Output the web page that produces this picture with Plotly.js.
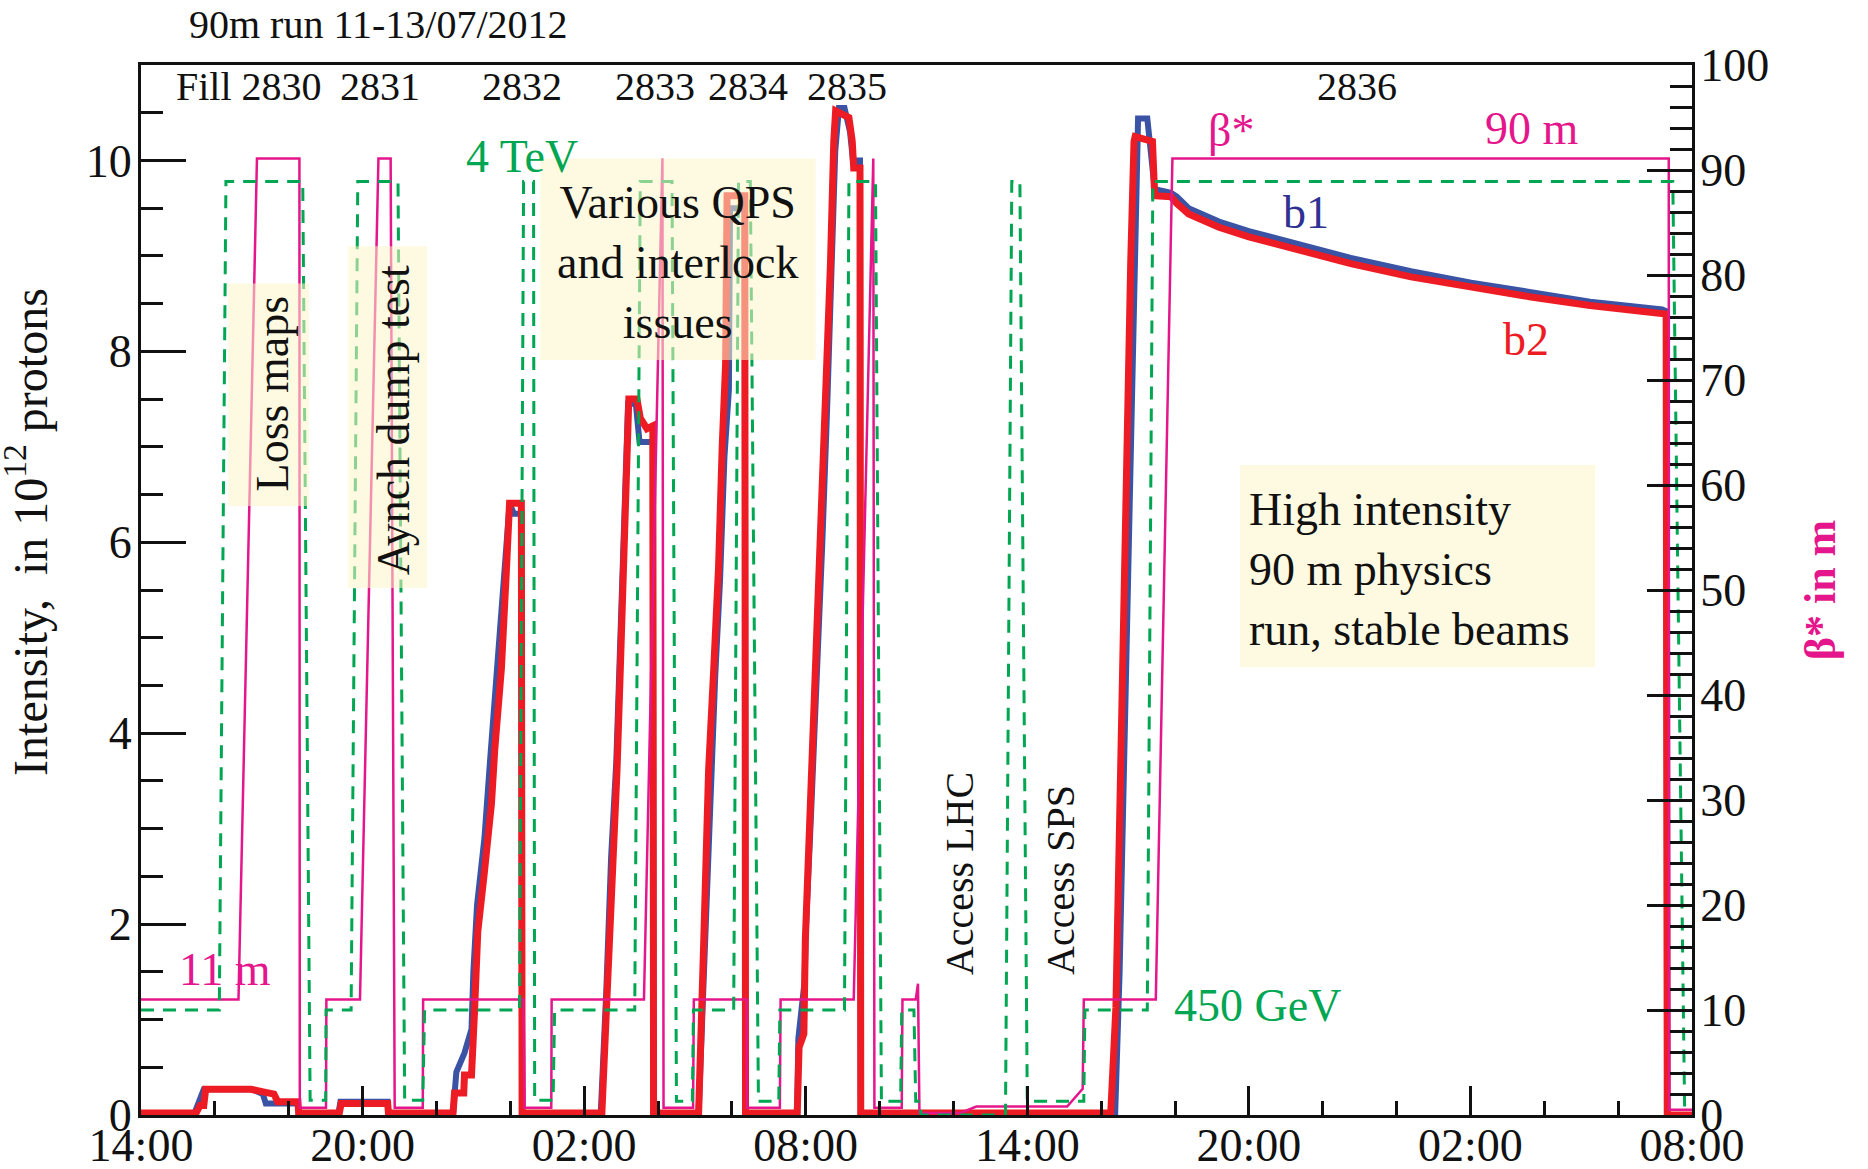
<!DOCTYPE html>
<html>
<head>
<meta charset="utf-8">
<script src="https://cdn.plot.ly/plotly-3.0.1.min.js"></script>
<style>
html,body{margin:0;padding:0;background:#fff;}
#chart{width:1868px;height:1169px;}
</style>
</head>
<body>
<div id="chart"></div>
<script>
// time in hours after 14:00 on 11/07/2012
const hoursB1 = [0,1.45,1.55,1.7,3.0,3.3,3.38,4.25,4.27,5.35,5.4,6.68,6.7,8.45,8.54,8.76,8.95,9.0,9.1,9.3,9.45,9.7,9.88,9.98,10.1,10.3,10.32,
  12.45,12.6,12.73,12.87,12.96,13.05,13.14,13.19,13.4,13.5,13.86,13.88,
  15.1,15.25,15.4,15.55,15.68,15.8,15.92,15.95,16.35,16.37,
  17.77,17.8,17.97,18.0,18.15,18.3,18.45,18.58,18.7,18.8,18.9,19.05,19.2,19.28,19.47,19.49,
  26.38,26.5,26.6,26.7,26.8,26.88,26.96,27.0,27.25,27.35,27.45,27.89,28.05,28.37,29.19,30.0,31.14,32.76,34.39,36.02,37.64,39.24,41.19,41.3,41.33,42];
const b1 = [0.02,0.02,0.12,0.27,0.27,0.22,0.12,0.12,0.02,0.02,0.14,0.14,0.02,0.02,0.45,0.65,0.9,1.5,2.2,2.9,3.7,4.9,5.9,6.4,6.3,6.3,0.02,
  0.02,1.3,2.7,3.7,4.8,5.9,6.8,7.45,7.45,7.05,7.05,0.02,
  0.02,1.6,3.4,4.6,5.6,6.9,7.6,9.5,9.5,0.02,
  0.02,0.8,1.4,1.9,3.2,4.5,6.0,7.4,8.8,10.1,10.55,10.55,10.3,10.0,10.0,0.02,
  0.02,1.5,3.3,5.0,6.8,8.2,10.1,10.44,10.44,10.1,9.7,9.66,9.62,9.5,9.36,9.26,9.14,8.98,8.84,8.72,8.62,8.52,8.44,8.42,0.0,0.0];

const hoursB2 = [0,1.49,1.6,1.7,1.75,2.98,3.34,3.6,3.7,4.25,4.27,5.37,5.42,6.68,6.7,8.45,8.49,8.74,8.76,8.95,9.03,9.12,9.3,9.49,9.58,9.76,9.89,9.98,10.3,10.32,
  12.48,12.62,12.76,12.89,12.98,13.07,13.16,13.21,13.43,13.52,13.7,13.86,13.88,
  15.1,15.24,15.37,15.51,15.64,15.74,15.83,15.87,16.35,16.37,
  17.77,17.82,17.95,17.99,18.13,18.27,18.4,18.54,18.67,18.76,18.81,19.17,19.26,19.3,19.47,19.49,
  26.26,26.4,26.49,26.55,26.62,26.71,26.8,26.89,26.92,27.39,27.45,27.89,28.05,28.37,29.19,30.0,31.14,32.76,34.39,36.02,37.64,39.24,41.19,41.3,41.33,42];
const b2 = [0.02,0.02,0.1,0.1,0.27,0.27,0.24,0.22,0.14,0.14,0.02,0.02,0.12,0.12,0.02,0.02,0.23,0.23,0.42,0.42,1.07,1.92,2.55,3.26,3.83,4.68,5.67,6.41,6.41,0.02,
  0.02,1.13,2.55,3.61,4.68,5.74,6.66,7.5,7.5,7.3,7.19,7.22,0.02,
  0.02,1.84,3.61,4.68,5.74,7.02,7.86,9.63,9.63,0.02,
  0.02,0.71,0.85,1.84,3.26,4.68,6.1,7.5,8.92,10.2,10.52,10.45,10.2,9.92,9.92,0.02,
  0.02,1.13,2.9,4.68,6.09,7.65,8.92,10.2,10.25,10.2,9.63,9.62,9.55,9.44,9.3,9.2,9.08,8.92,8.78,8.67,8.57,8.48,8.4,8.39,0.0,0.0];

const hoursBeta = [0,2.64,3.14,4.29,4.3,5.01,5.02,5.93,6.43,6.76,6.87,7.63,7.64,10.36,10.39,11.11,11.12,13.62,14.12,14.15,14.95,14.97,16.4,16.41,17.3,17.32,19.3,19.83,19.86,20.6,20.62,20.98,21.04,21.08,22.19,22.62,25.08,25.5,25.53,27.48,27.93,41.37,41.38,42];
const betaStar = [11,11,91.1,91.1,0.7,0.7,11,11,91.1,91.1,0.7,0.7,11,11,0.7,0.7,11,11,91.1,0.7,0.7,11,11,0.7,0.7,11,11,91.1,0.7,0.7,11,11,12.5,0.2,0.2,0.8,0.8,2.5,11,11,91.1,91.1,0.5,0.5];

// beam energy drawn on the beta* scale (450 GeV -> 10, 4 TeV -> 88.9)
const hoursEnergy = [0,2.12,2.30,4.38,4.58,5.0,5.01,5.69,5.87,6.96,7.14,7.63,7.68,10.25,10.36,10.63,10.66,11.16,11.2,13.37,13.52,14.38,14.5,14.93,14.96,16.05,16.18,16.5,16.72,17.27,17.3,19.05,19.17,19.89,20.05,20.57,20.6,20.93,20.98,21.1,21.12,23.41,23.58,23.8,24.0,25.53,25.56,27.25,27.4,41.48,41.8,42];
const energyScaled = [10,10,88.9,88.9,1.4,1.4,10,10,88.9,88.9,1.4,1.4,10,10,88.9,88.9,1.4,1.4,10,10,88.9,88.9,1.3,1.3,10,10,88.9,88.9,1.3,1.3,10,10,88.9,88.9,1.3,1.3,10,10,1.3,1.3,0,0,88.9,88.9,1.3,1.3,10,10,88.9,88.9,0.7,0.7];

const xTickVals = [0,6,12,18,24,30,36,42];
const xTickText = ["14:00","20:00","02:00","08:00","14:00","20:00","02:00","08:00"];

const fillNames = ["Fill 2830","2831","2832","2833","2834","2835","2836"];
const fillHours = [2.93,6.48,10.31,13.92,16.44,19.12,32.93];

const SERIF = "Liberation Serif, Times New Roman, serif";
const RED = "#ED1C24", BLUE = "#3A53A4", MAG = "#E5168C", GREEN = "#00A651";

const traces = [
  {x: hoursB1, y: b1, name: "b1", type: "scatter", mode: "lines", line: {color: BLUE, width: 6}, yaxis: "y"},
  {x: hoursB2, y: b2, name: "b2", type: "scatter", mode: "lines", line: {color: RED, width: 7}, yaxis: "y"},
  {x: hoursBeta, y: betaStar, name: "β*", type: "scatter", mode: "lines", line: {color: MAG, width: 2.5}, yaxis: "y2"},
  {x: hoursEnergy, y: energyScaled, name: "Energy", type: "scatter", mode: "lines", line: {color: GREEN, width: 3, dash: "13px,9px"}, yaxis: "y2"}
];

const txt = (text, x, y, opts) => Object.assign({
  text: text, x: x, y: y, xref: "x", yref: "y", showarrow: false,
  xanchor: "center", yanchor: "middle", font: {family: SERIF, size: 46, color: "#111"}
}, opts || {});

const annotations = [];
fillNames.forEach((n, i) => annotations.push(txt(n, fillHours[i], 10.77, {font: {family: SERIF, size: 40, color: "#111"}})));
annotations.push(
  // left axis title, placed to match the reference position
  {text: "Intensity,  in 10<sup>12</sup> protons", xref: "paper", yref: "paper", x: -0.0737, y: 0.555,
   xanchor: "center", yanchor: "middle", textangle: -90, showarrow: false,
   font: {family: SERIF, size: 48, color: "#111"}},
  txt("4 TeV", 10.33, 10.04, {font: {family: SERIF, size: 46, color: GREEN}}),
  txt("Various QPS<br>and interlock<br>issues", 14.53, 8.93, {align: "center"}),
  txt("Loss maps", 3.55, 7.56, {textangle: -90}),
  txt("Aynch dump test", 6.83, 7.28, {textangle: -90}),
  txt("Access LHC", 22.17, 2.53, {textangle: -90, font: {family: SERIF, size: 40, color: "#111"}}),
  txt("Access SPS", 24.88, 2.46, {textangle: -90, font: {family: SERIF, size: 40, color: "#111"}}),
  txt("High intensity<br>90 m physics<br>run, stable beams", 29.95, 5.71, {xanchor: "left", align: "left"}),
  txt("β*", 29.51, 10.31, {font: {family: SERIF, size: 46, color: MAG}}),
  txt("90 m", 37.67, 10.33, {font: {family: SERIF, size: 46, color: MAG}}),
  txt("b1", 31.54, 9.45, {font: {family: SERIF, size: 46, color: "#2E3192"}}),
  txt("b2", 37.51, 8.12, {font: {family: SERIF, size: 46, color: RED}}),
  txt("11 m", 2.28, 1.52, {font: {family: SERIF, size: 46, color: MAG}}),
  txt("450 GeV", 30.24, 1.15, {font: {family: SERIF, size: 46, color: GREEN}})
);

const box = (x0, x1, y0, y1) => ({type: "rect", xref: "x", yref: "y", x0: x0, x1: x1, y0: y0, y1: y1,
  layer: "above", fillcolor: "rgb(253,245,200)", opacity: 0.55, line: {width: 0}});
const shapes = [box(2.36, 4.55, 6.38, 8.71), box(5.61, 7.75, 5.52, 9.1), box(10.81, 18.27, 7.91, 10.02), box(29.76, 39.38, 4.69, 6.81)];

const tickFont = {family: SERIF, size: 46, color: "#111"};
const layout = {
  width: 1868, height: 1169,
  margin: {l: 141, r: 176, t: 65, b: 54, pad: 0},
  paper_bgcolor: "#fff", plot_bgcolor: "#fff",
  showlegend: false,
  title: {text: "90m run 11-13/07/2012", x: 189/1868, xanchor: "left", xref: "container",
          y: 1 - 24/1169, yanchor: "middle", yref: "container", font: {family: SERIF, size: 40, color: "#111"}},
  xaxis: {range: [0, 42], tickmode: "array", tickvals: xTickVals, ticktext: xTickText,
          ticks: "inside", ticklen: 29, tickwidth: 2.5, tickcolor: "#111",
          minor: {tickmode: "linear", tick0: 0, dtick: 2, ticks: "inside", ticklen: 14, tickwidth: 2.5, tickcolor: "#111"},
          showline: true, linecolor: "#111", linewidth: 3, mirror: true,
          showgrid: false, zeroline: false, tickfont: tickFont, ticklabelstandoff: -12},
  yaxis: {range: [0, 11], dtick: 2, tick0: 0, ticks: "inside", ticklen: 45, tickwidth: 2.5, tickcolor: "#111",
          minor: {dtick: 0.5, ticks: "inside", ticklen: 22, tickwidth: 2.5, tickcolor: "#111"},
          showline: true, linecolor: "#111", linewidth: 3,
          showgrid: false, zeroline: false, tickfont: tickFont, ticklabelstandoff: -3},
  yaxis2: {range: [0, 100], overlaying: "y", side: "right", dtick: 10, tick0: 0,
          ticks: "inside", ticklen: 45, tickwidth: 2.5, tickcolor: "#111",
          minor: {dtick: 2, ticks: "inside", ticklen: 22, tickwidth: 2.5, tickcolor: "#111"},
          showline: true, linecolor: "#111", linewidth: 3,
          showgrid: false, zeroline: false, tickfont: tickFont, ticklabelstandoff: -4,
          title: {text: "β* in m", font: {family: SERIF, size: 44, color: MAG, weight: "bold"}, standoff: 36}},
  annotations: annotations,
  shapes: shapes
};

Plotly.newPlot("chart", traces, layout, {displayModeBar: false, responsive: false});
</script>
</body>
</html>
